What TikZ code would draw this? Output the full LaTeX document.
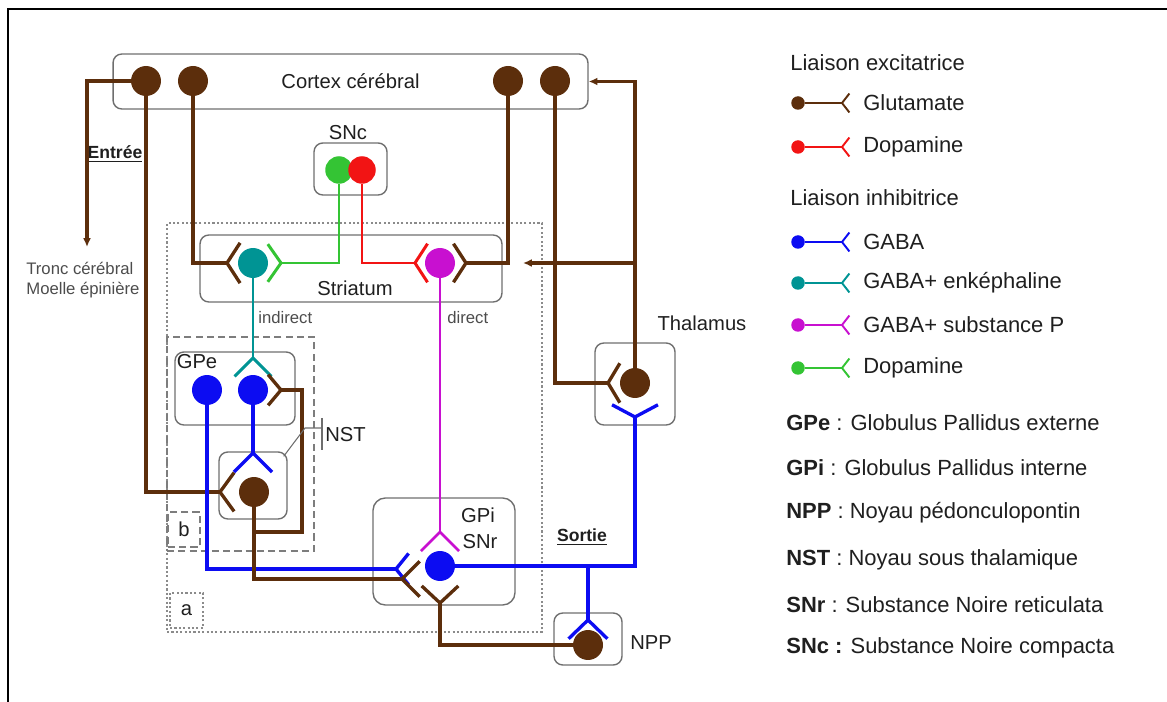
\documentclass[tikz,border=0pt]{standalone}
\usepackage{fontspec}
\setmainfont{Liberation Sans}
\usetikzlibrary{arrows.meta}
\definecolor{Glu}{HTML}{5C2E0C}
\definecolor{Gab}{HTML}{0C0CF2}
\definecolor{Enk}{HTML}{009494}
\definecolor{SubP}{HTML}{C810D0}
\definecolor{DopR}{HTML}{F21414}
\definecolor{DopG}{HTML}{34C434}
\definecolor{Edge}{HTML}{6E6E6E}

\begin{document}
\begin{tikzpicture}[
  x=0.02cm,y=-0.02cm,
  font=\fontsize{11.5}{13}\selectfont,text=black!88,
  box/.style={draw=Edge,line width=0.8pt,rounded corners=5pt,inner sep=0pt},
  obox/.style={draw=Edge!80,line width=0.8pt,dash pattern=on 1.2pt off 1.3pt,inner sep=0pt},
  dbox/.style={draw=Edge!90,line width=0.9pt,dash pattern=on 4pt off 2.4pt,inner sep=0pt},
  neu/.style={circle,inner sep=0pt,minimum size=0.6cm},
  dot/.style={circle,inner sep=0pt,minimum size=0.27cm},
  lbl/.style={inner sep=0pt},
  sm/.style={lbl,font=\fontsize{9.5}{11.5}\selectfont,text=black!70},
  io/.style={lbl,font=\fontsize{10}{12}\selectfont\bfseries},
  leg/.style={lbl,anchor=west,font=\fontsize{12.5}{15}\selectfont},
  glu/.style={draw=Glu,line width=1.9pt},
  gab/.style={draw=Gab,line width=1.9pt},
  enk/.style={draw=Enk,line width=1.7pt},
  subp/.style={draw=SubP,line width=1.6pt},
  dopr/.style={draw=DopR,line width=1.7pt},
  dopg/.style={draw=DopG,line width=1.7pt},
  ar/.style={-{Latex[length=5pt,width=4.5pt]}},
  ptr/.style={draw=Edge,line width=0.6pt},
  pics/syn/.style 2 args={code={\draw[pic actions] (0,0) -- (#1:#2) (0,0) -- (-#1:#2);}},
]
\useasboundingbox (0,0) rectangle (1167,702);
\draw[line width=1.5pt] (8,702) -- (8,9) -- (1167,9);

% zones a and b
\node[obox,minimum width=7.5cm,minimum height=8.18cm] (zoneA) at (354.5,427.5) {};
\node[dbox,minimum width=2.94cm,minimum height=4.28cm] (zoneB) at (240.5,444) {};
\node[obox,minimum width=0.66cm,minimum height=0.7cm] (tagA) at (186.5,610.5) {a};
\node[dbox,minimum width=0.64cm,minimum height=0.7cm] (tagB) at (184,529.5) {b};

% nuclei
\node[box,minimum width=9.5cm,minimum height=1.1cm] (cortex) at (350.5,81.5) {Cortex cérébral};
\node[box,minimum width=1.46cm,minimum height=1.04cm] (sncBox) at (350.5,169) {};
\node[lbl] (sncL) at (348,133) {SNc};
\node[box,minimum width=6.04cm,minimum height=1.34cm] (striatum) at (351,268.5) {};
\node[lbl] (striatumL) at (355,288) {Striatum};
\node[box,minimum width=2.4cm,minimum height=1.46cm] (gpeBox) at (235,388.5) {};
\node[lbl] (gpeL) at (197,362) {GPe};
\node[box,minimum width=1.36cm,minimum height=1.34cm] (nstBox) at (253,485.5) {};
\node[lbl,anchor=west] (nstL) at (325,435) {NST};
\node[box,minimum width=2.84cm,minimum height=2.14cm,rounded corners=7pt] (gpiBox) at (444,551.5) {};
\node[lbl] (gpiL) at (478,515) {GPi};
\node[lbl] (snrL) at (480,542) {SNr};
\node[box,minimum width=1.6cm,minimum height=1.64cm] (thalBox) at (635,384) {};
\node[lbl] (thalL) at (702,323) {Thalamus};
\node[box,minimum width=1.36cm,minimum height=1.04cm] (nppBox) at (588,639) {};
\node[lbl,anchor=west] (nppL) at (630,643) {NPP};

\node[io] (entree) at (115,154) {\underline{Entrée}};
\node[io] (sortie) at (582,537) {\underline{Sortie}};
\node[sm,align=left,anchor=west] (tronc) at (26,280) {Tronc cérébral\\Moelle épinière};
\node[sm,anchor=west] (indL) at (258,318) {indirect};
\node[sm,anchor=west] (dirL) at (447,318) {direct};

% neurons
\foreach \n/\x in {1/146,2/193,3/508,4/555}
  \node[neu,fill=Glu] (cx\n) at (\x,81) {};
\node[neu,fill=DopG,minimum size=0.55cm] (sncG) at (339,170) {};
\node[neu,fill=DopR,minimum size=0.55cm] (sncR) at (362,170) {};
\node[neu,fill=Enk] (strE) at (253,263) {};
\node[neu,fill=SubP] (strP) at (440,263) {};
\node[neu,fill=Gab] (gpe1) at (207,390) {};
\node[neu,fill=Gab] (gpe2) at (253,390) {};
\node[neu,fill=Glu] (nst) at (254,492) {};
\node[neu,fill=Gab] (gpi) at (440,566) {};
\node[neu,fill=Glu] (thal) at (635,383) {};
\node[neu,fill=Glu] (npp) at (588,645) {};

% synapse points
\coordinate (sStrA) at (227,263);
\coordinate (sStrG) at (281,263);
\coordinate (sStrR) at (415,263);
\coordinate (sStrB) at (466,263);
\coordinate (sGpeE) at (253,358);
\coordinate (sGpeN) at (281,390);
\coordinate (sNstB) at (253,453);
\coordinate (sNstC) at (220,492);
\coordinate (sGpiP) at (440,532);
\coordinate (sGpiB) at (396,569);
\coordinate (sGpiN) at (402,579);
\coordinate (sGpiU) at (440,603);
\coordinate (sThC) at (608,383);
\coordinate (sThB) at (635,417);
\coordinate (sNppB) at (588,620);
\coordinate (trunk) at (87,247);
\coordinate (strIn) at (523,263);
\coordinate (nstLoop) at (302,532);

% pathways
\draw[glu,ar] (cx1) -| (trunk);
\draw[glu] (cx1) |- (sNstC);
\draw[glu] (cx2) |- (sStrA);
\draw[glu] (cx3) |- (sStrB);
\draw[glu] (cx4) |- (sThC);
\draw[glu,ar] (thal) |- (cortex.east);
\draw[glu,ar] (thal |- strIn) -- (strIn);
\draw[dopg] (sncG) |- (sStrG);
\draw[dopr] (sncR) |- (sStrR);
\draw[enk] (strE) -- (sGpeE);
\draw[subp] (strP) -- (sGpiP);
\draw[gab] (gpe2) -- (sNstB);
\draw[gab] (gpe1) |- (sGpiB);
\draw[glu] (nst) |- (nstLoop) |- (sGpeN);
\draw[glu] (nst) |- (sGpiN);
\draw[glu] (npp) -| (sGpiU);
\draw[gab] (gpi) -| (sThB);
\draw[gab] (sNppB |- gpi) -- (sNppB);

\pic[glu] at (sStrA) {syn={57}{24}};
\pic[dopg,rotate=180] at (sStrG) {syn={55}{23}};
\pic[dopr] at (sStrR) {syn={57}{23}};
\pic[glu,rotate=180] at (sStrB) {syn={57}{23}};
\pic[enk,rotate=-90] at (sGpeE) {syn={45}{26}};
\pic[glu,rotate=180] at (sGpeN) {syn={50}{20}};
\pic[gab,rotate=-90] at (sNstB) {syn={45}{27}};
\pic[glu] at (sNstC) {syn={54}{24}};
\pic[subp,rotate=-90] at (sGpiP) {syn={45}{27}};
\pic[gab] at (sGpiB) {syn={51}{20}};
\pic[glu] at (sGpiN) {syn={45}{25}};
\pic[glu,rotate=90] at (sGpiU) {syn={47}{25}};
\pic[glu] at (sThC) {syn={59}{23}};
\pic[gab,rotate=90] at (sThB) {syn={62}{26}};
\pic[gab,rotate=-90] at (sNppB) {syn={46}{27}};

\draw[ptr] ([shift={(-4,5)}]nstBox.north east) -- (305,428) -- (322,428);
\draw[ptr] (322,418) -- (322,450);

% legend
\node[leg] (hExc) at (790,63) {Liaison excitatrice};
\node[leg] (hInh) at (790,198) {Liaison inhibitrice};
\foreach \c/\t/\y [count=\i] in {Glu/Glutamate/103,DopR/Dopamine/147,Gab/GABA/242,
    Enk/GABA+ enképhaline/283,SubP/GABA+ substance P/325,DopG/Dopamine/368}{
  \node[dot,fill=\c] (ld\i) at (798,\y) {};
  \coordinate (ls\i) at (842,\y);
  \draw[draw=\c,line width=1.1pt] (ld\i) -- (ls\i);
  \pic[draw=\c,line width=1.1pt] at (ls\i) {syn={52}{12}};
  \node[leg] (lt\i) at (863,\y) {\t};
}
\foreach \a/\t/\y [count=\i] in {GPe/Globulus Pallidus externe/423,GPi/Globulus Pallidus interne/468,
    NPP/Noyau pédonculopontin/513,NST/Noyau sous thalamique/560,SNr/Substance Noire reticulata/605}
  \node[leg] (ab\i) at (786,\y) {\textbf{\a} : \t};
\node[leg] (ab6) at (786,648) {\textbf{SNc :} Substance Noire compacta};
\end{tikzpicture}
\end{document}
